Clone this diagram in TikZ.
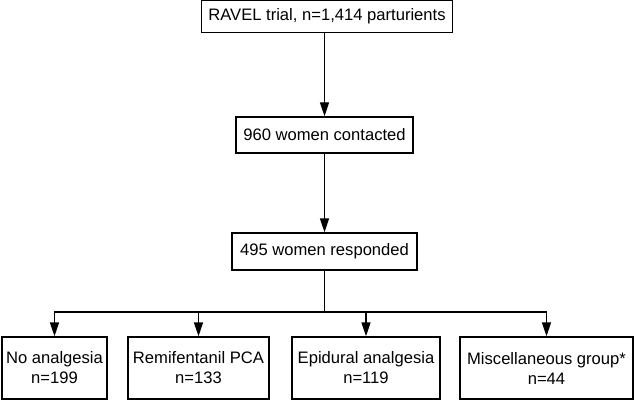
\documentclass[tikz,border=0pt]{standalone}
\usepackage{fontspec}
\setmainfont{Liberation Sans}
\usetikzlibrary{arrows.meta}

\begin{document}
\begin{tikzpicture}[
        x=1pt, y=-1pt,
        line width=1.4pt,
        box/.style={draw, align=center, inner sep=0pt, font=\fontsize{16.6}{20}\selectfont},
        arr/.style={-{Triangle[length=14pt,width=9pt]}}
    ]
    \useasboundingbox (0,0) rectangle (634,401);
    \node[box, minimum width=251pt, minimum height=32pt] (trial) at (327,16.5) {RAVEL trial, n=1,414 parturients};
    \node[box, minimum width=177pt, minimum height=36pt] (contact) at (324.5,135) {960 women contacted};
    \node[box, minimum width=185pt, minimum height=37pt] (resp) at (324.5,251.5) {495 women responded};
    \node[box, minimum width=105pt, minimum height=62pt] (none) at (54.5,368) {No analgesia\\n=199};
    \node[box, minimum width=141pt, minimum height=62pt] (remi) at (198.5,368) {Remifentanil PCA\\n=133};
    \node[box, minimum width=148pt, minimum height=62pt] (epi) at (366,368) {Epidural analgesia\\n=119};
    \node[box, minimum width=173pt, minimum height=62pt] (misc) at (546.5,368) {Miscellaneous group*\\n=44};
    \coordinate (fork) at (324.5,312);
    \draw[arr] (trial.south -| contact) -- (contact);
    \draw[arr] (contact) -- (resp);
    \draw (resp) -- (fork);
    \foreach \grp in {none, remi, epi, misc}
        \draw[arr] (fork) -| (\grp.north);
\end{tikzpicture}
\end{document}
